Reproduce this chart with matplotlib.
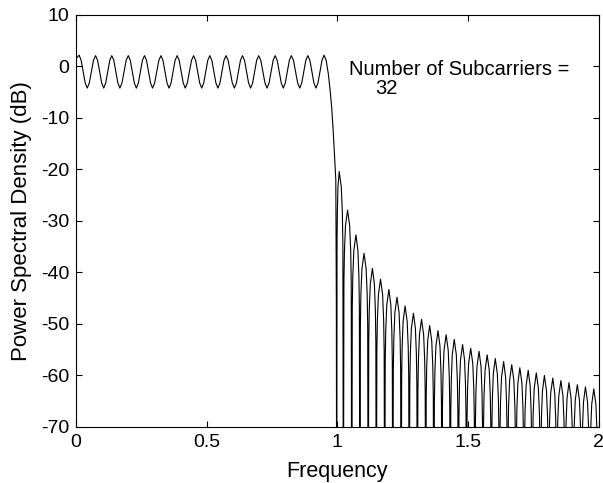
import matplotlib
matplotlib.use("Agg")
import matplotlib.pyplot as plt

plt.rcParams['font.family'] = ['Liberation Sans', 'DejaVu Sans']
plt.rcParams['axes.unicode_minus'] = False

# Passband ripples
pass_start_f = 0.0
pass_start_db = 1.5
pass_peak_f = [0.012, 0.075, 0.137, 0.200, 0.262, 0.325, 0.387, 0.450,
               0.512, 0.574, 0.637, 0.699, 0.762, 0.824, 0.887, 0.949]
pass_peak_db = [2.2, 2.1, 2.1, 2.1, 2.1, 2.1, 2.1, 2.1,
                2.1, 2.1, 2.1, 2.1, 2.1, 2.1, 2.1, 2.2]
pass_trough_f = [0.043, 0.106, 0.168, 0.231, 0.293, 0.356, 0.418, 0.481,
                 0.543, 0.606, 0.668, 0.731, 0.793, 0.856, 0.918]
pass_trough_db = [-4.2, -4.2, -4.2, -4.2, -4.2, -4.2, -4.2, -4.2,
                  -4.2, -4.2, -4.2, -4.2, -4.2, -4.2, -4.2]
# level a quarter, half and three quarters of the way from a peak to a trough
ripple_side_db = [1.2, -1.0, -3.2]

# band edge fall-off
edge_f = [0.957, 0.965, 0.972, 0.978, 0.984, 0.990, 0.994, 0.996, 0.9975]
edge_db = [1.2, -1.3, -4.5, -7.8, -12.5, -18.0, -22.0, -45.0, -100.0]

# Side lobes above f = 1
lobe_peak_f = [1.007, 1.039, 1.071, 1.102, 1.134, 1.165, 1.197, 1.228,
               1.259, 1.291, 1.322, 1.353, 1.385, 1.416, 1.447, 1.479,
               1.510, 1.542, 1.573, 1.604, 1.636, 1.667, 1.698, 1.730,
               1.761, 1.792, 1.824, 1.855, 1.886, 1.918, 1.949, 1.981]
lobe_peak_db = [-20.4, -27.9, -32.7, -36.3, -39.2, -41.3, -43.3, -44.8,
                -46.5, -47.9, -49.1, -50.3, -51.3, -52.1, -53.0, -54.0,
                -54.7, -55.3, -56.0, -56.7, -57.3, -57.9, -58.5, -59.0,
                -59.5, -60.0, -60.5, -61.0, -61.4, -61.8, -62.2, -62.6]
lobe_null_f = [1.023, 1.055, 1.086, 1.118, 1.149, 1.181, 1.212, 1.244,
               1.275, 1.306, 1.338, 1.369, 1.400, 1.432, 1.463, 1.494,
               1.526, 1.557, 1.589, 1.620, 1.651, 1.683, 1.714, 1.745,
               1.777, 1.808, 1.839, 1.871, 1.902, 1.934, 1.965, 1.997]
null_db = -100.0
# drop below the lobe peak at 1/8, 1/4, 1/2 of the way from a null to the peak
lobe_side_drop = [14.0, 8.0, 3.0]
lobe_side_frac = [0.125, 0.25, 0.5]

# assemble the curve
f = [pass_start_f]
db = [pass_start_db]
for i in range(len(pass_peak_f)):
    f.append(pass_peak_f[i])
    db.append(pass_peak_db[i])
    if i < len(pass_trough_f):
        a, b = pass_peak_f[i], pass_trough_f[i]
        for j, lev in enumerate(ripple_side_db):
            f.append(a + (b - a) * (j + 1) / 4)
            db.append(lev)
        f.append(b)
        db.append(pass_trough_db[i])
        c = pass_peak_f[i + 1]
        for j, lev in enumerate(reversed(ripple_side_db)):
            f.append(b + (c - b) * (j + 1) / 4)
            db.append(lev)
f += edge_f
db += edge_db

left_null = edge_f[-1]
for i in range(len(lobe_peak_f)):
    p, pk, rn = lobe_peak_f[i], lobe_peak_db[i], lobe_null_f[i]
    for fr, dr in zip(lobe_side_frac, lobe_side_drop):
        f.append(left_null + (p - left_null) * fr)
        db.append(pk - dr)
    f.append(p)
    db.append(pk)
    for fr, dr in zip(reversed(lobe_side_frac), reversed(lobe_side_drop)):
        f.append(rn - (rn - p) * fr)
        db.append(pk - dr)
    f.append(rn)
    db.append(null_db)
    left_null = rn

fig = plt.figure(figsize=(6.03, 4.83), dpi=100)
ax = fig.add_axes([0.126, 0.116, 0.867, 0.853])
ax.plot(f, db, color='black', linewidth=0.8)

ax.set_xlim(0, 2)
ax.set_ylim(-70, 10)
ax.set_xticks([0, 0.5, 1, 1.5, 2])
ax.set_xticklabels(['0', '0.5', '1', '1.5', '2'])
ax.set_yticks(range(-70, 11, 10))
ax.tick_params(direction='in', length=4, width=0.8, labelsize=14,
               top=True, right=True, pad=5)
for s in ax.spines.values():
    s.set_linewidth(0.8)

ax.set_xlabel('Frequency', fontsize=15.5, labelpad=7)
ax.set_ylabel('Power Spectral Density (dB)', fontsize=16, labelpad=6)

ax.text(1.044, -0.5, 'Number of Subcarriers =', fontsize=14.5, va='center', ha='left')
ax.text(1.143, -4.2, '32', fontsize=14.5, va='center', ha='left')

fig.savefig('out.png', dpi=100)
